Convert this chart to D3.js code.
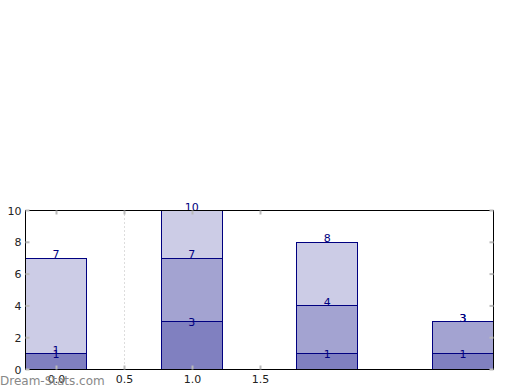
<html>
<head>
  <script src="https://d3js.org/d3.v7.min.js"></script>
</head>
<style>
  body { margin: 0; background: white; }
  text { font-family: "DejaVu Sans", sans-serif; }
</style>
<body>
<svg width="520" height="390"></svg>
<script>
  // data
  let categories = [0, 1, 2, 3];
  let seriesA = [1, 3, 1, 1];
  let seriesB = [0, 4, 3, 2];
  let seriesC = [6, 3, 4, 0];
  let xTicks = [0.0, 0.5, 1.0, 1.5];
  let xGrid = [0.5];
  let yTicks = [0, 2, 4, 6, 8, 10];

  let svg = d3.select("svg"),
      plotL = 25.5, plotR = 493.5, plotT = 210.5, plotB = 369.5;

  let xScale = d3.scaleLinear().domain([-0.225, 3.225]).range([plotL, plotR]);
  let yScale = d3.scaleLinear().domain([0, 10]).range([plotB, plotT]);
  let barW = 0.45;

  let fills = ["#8080c0", "#a3a3d1", "#ccccE6"];
  let labelDy = [4, 0, 0];
  let series = [seriesA, seriesB, seriesC];

  let g = svg.append("g");

  // grid
  g.selectAll(".grid").data(xGrid).enter().append("line")
      .attr("x1", d => Math.round(xScale(d)) + 0.5).attr("x2", d => Math.round(xScale(d)) + 0.5)
      .attr("y1", plotT).attr("y2", plotB)
      .attr("stroke", "#bbb").attr("stroke-dasharray", "1,3");

  // stacked bars
  let stack = categories.map(() => 0);
  series.forEach(function (s, si) {
    let bases = stack.slice();
    categories.forEach((c, i) => { stack[i] += s[i]; });
    let tops = stack.slice();
    g.selectAll(".bar" + si).data(categories).enter().append("rect")
        .attr("x", d => xScale(d - barW / 2))
        .attr("width", d => xScale(d + barW / 2) - xScale(d - barW / 2))
        .attr("y", (d, i) => yScale(tops[i]))
        .attr("height", (d, i) => yScale(bases[i]) - yScale(tops[i]))
        .attr("fill", fills[si])
        .attr("stroke", "#000080").attr("stroke-width", 1)
        .attr("shape-rendering", "crispEdges");
  });

  // labels
  let cum = categories.map(() => 0);
  series.forEach(function (s, si) {
    categories.forEach((c, i) => { cum[i] += s[i]; });
    let vals = cum.slice();
    g.selectAll(null).data(categories).enter().append("text")
        .attr("x", d => xScale(d))
        .attr("y", (d, i) => yScale(vals[i]) + labelDy[si])
        .attr("text-anchor", "middle")
        .attr("font-size", 11)
        .attr("fill", "#000080")
        .text((d, i) => vals[i]);
  });

  // frame
  g.append("rect").attr("x", plotL).attr("y", plotT)
      .attr("width", plotR - plotL).attr("height", plotB - plotT)
      .attr("fill", "none").attr("stroke", "black").attr("stroke-width", 1)
      .attr("shape-rendering", "crispEdges");

  // ticks
  xTicks.forEach(function (t) {
    let x = Math.round(xScale(t)) + 0.5;
    g.append("line").attr("x1", x).attr("x2", x)
        .attr("y1", plotB).attr("y2", plotB - 4).attr("stroke", "#bbb").attr("stroke-width", 2);
    g.append("line").attr("x1", x).attr("x2", x)
        .attr("y1", plotT).attr("y2", plotT + 4).attr("stroke", "#bbb").attr("stroke-width", 2);
    g.append("text").attr("x", x).attr("y", plotB + 13)
        .attr("text-anchor", "middle").attr("font-size", 11).attr("fill", "#222")
        .text(d3.format(".1f")(t));
  });
  yTicks.forEach(function (t) {
    g.append("line").attr("x1", plotL).attr("x2", plotL + 4)
        .attr("y1", yScale(t)).attr("y2", yScale(t)).attr("stroke", "#bbb").attr("stroke-width", 2);
    g.append("line").attr("x1", plotR).attr("x2", plotR - 4)
        .attr("y1", yScale(t)).attr("y2", yScale(t)).attr("stroke", "#bbb").attr("stroke-width", 2);
    g.append("text").attr("x", plotL - 4).attr("y", yScale(t) + 4)
        .attr("text-anchor", "end").attr("font-size", 11).attr("fill", "#222")
        .text(t);
  });

  // watermark
  svg.append("text").attr("x", 0).attr("y", 385)
      .attr("font-size", 12).attr("fill", "#888")
      .text("Dream-Stats.com");
</script>
</body>
</html>
